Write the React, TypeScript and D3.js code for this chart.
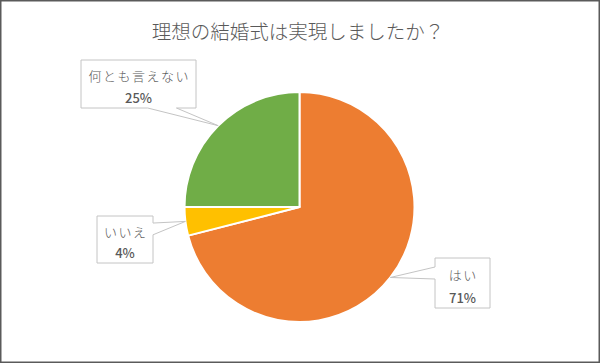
import { useEffect, useRef } from "react";
import * as d3 from "d3";

const title = "理想の結婚式は実現しましたか？";
const categories = ["はい", "いいえ", "何とも言えない"];
const values = [71, 4, 25];
const colors = ["#ED7D31", "#FFC000", "#70AD47"];

// callout boxes: [x, y, w, h], side the pointer leaves from, and where along that side (0..1)
const callouts = [
  { box: [435, 258, 55, 50], side: "left", from: 0.18, to: 0.42 },
  { box: [97, 216, 56, 47], side: "right", from: 0.15, to: 0.4 },
  { box: [81, 60, 115, 48], side: "bottom", from: 0.58, to: 0.83 },
];

function App() {
  const ref = useRef<SVGSVGElement>(null);

  const width = 600;
  const height = 363;
  const cx = 299.5;
  const cy = 207;
  const radius = 115;

  useEffect(() => {
    const svg = d3.select(ref.current);
    svg.selectAll("*").remove();

    svg.append("rect")
      .attr("x", 0).attr("y", 0)
      .attr("width", width).attr("height", height)
      .attr("fill", "#ffffff");

    svg.append("rect")
      .attr("x", 0.75).attr("y", 0.75)
      .attr("width", width - 1.5).attr("height", height - 1.5)
      .attr("fill", "none")
      .attr("stroke", "#5a5a5a")
      .attr("stroke-width", 1.5);

    svg.append("text")
      .text(title)
      .attr("x", 298)
      .attr("y", 30)
      .attr("text-anchor", "middle")
      .attr("dominant-baseline", "central")
      .attr("font-family", "'Noto Sans CJK JP', sans-serif")
      .attr("font-size", 19.5)
      .attr("font-weight", 300)
      .attr("fill", "#595959");

    const pie = d3.pie<number>().sort(null).value(d => d);
    const arcs = pie(values);
    const arc = d3.arc<d3.PieArcDatum<number>>().innerRadius(0).outerRadius(radius);
    const edge = d3.arc<d3.PieArcDatum<number>>().innerRadius(radius).outerRadius(radius);

    const g = svg.append("g").attr("transform", `translate(${cx}, ${cy})`);

    g.selectAll("path.slice")
      .data(arcs)
      .join("path")
      .attr("class", "slice")
      .attr("d", arc)
      .attr("fill", (_, i) => colors[i])
      .attr("stroke", "#ffffff")
      .attr("stroke-width", 2)
      .attr("stroke-linejoin", "round");

    // callouts pointing to the middle of each slice's rim
    arcs.forEach((a, i) => {
      const [px0, py0] = edge.centroid(a);
      const px = px0 + cx;
      const py = py0 + cy;
      const c = callouts[i];
      const [x, y, w, h] = c.box;
      let pts: [number, number][];
      if (c.side === "left") {
        pts = [[x, y], [x + w, y], [x + w, y + h], [x, y + h],
          [x, y + h * c.to], [px, py], [x, y + h * c.from]];
      } else if (c.side === "right") {
        pts = [[x, y], [x + w, y], [x + w, y + h * c.from], [px, py],
          [x + w, y + h * c.to], [x + w, y + h], [x, y + h]];
      } else {
        pts = [[x, y], [x + w, y], [x + w, y + h], [x + w * c.to, y + h],
          [px, py], [x + w * c.from, y + h], [x, y + h]];
      }
      svg.append("path")
        .attr("d", d3.line()(pts) + "Z")
        .attr("fill", "#ffffff")
        .attr("stroke", "#c4c4c4")
        .attr("stroke-width", 1);

      const label = svg.append("text")
        .attr("text-anchor", "middle")
        .attr("font-family", "'Noto Sans CJK JP', sans-serif")
        .attr("fill", "#595959");
      label.append("tspan")
        .text(categories[i])
        .attr("x", x + w / 2 + 0.75)
        .attr("y", y + h * 0.33)
        .attr("dominant-baseline", "central")
        .attr("font-size", 13)
        .attr("font-weight", 300)
        .attr("letter-spacing", 1.5);
      label.append("tspan")
        .text(`${values[i]}%`)
        .attr("x", x + w / 2)
        .attr("y", y + h * 0.78)
        .attr("dominant-baseline", "central")
        .attr("font-size", 13)
        .attr("font-weight", 500);
    });
  }, []);

  return (
    <svg
      ref={ref}
      width={width}
      height={height}
      style={{ position: "absolute", left: 0, top: 0, display: "block" }}
    />
  );
}

export default App;
